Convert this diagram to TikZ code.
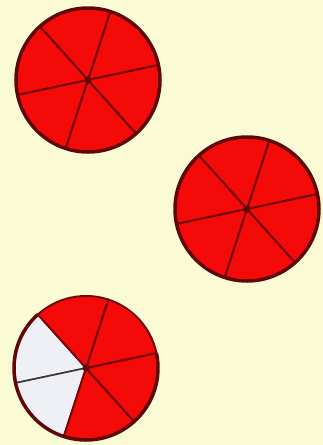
\documentclass[tikz,border=0pt]{standalone}
\definecolor{bg}{RGB}{250,250,213}
\definecolor{pie}{RGB}{245,10,10}
\definecolor{rim}{RGB}{95,8,8}
\definecolor{blank}{RGB}{238,240,245}
\definecolor{blankrim}{RGB}{55,55,55}
\begin{document}
\begin{tikzpicture}[x=1pt,y=-1pt,
  redslice/.style={fill=pie,draw=rim!85!pie,line width=2pt,line join=round},
  whiteslice/.style={fill=blank,draw=blankrim,line width=1.6pt,line join=round},
  rimline/.style={draw=rim,line width=3.5pt},
  hub/.style={fill=rim}]
\fill[bg] (0,0) rectangle (323,445);
\useasboundingbox (0,0) rectangle (323,445);
% whole pie 1
\foreach \a in {12,72,...,312}
  \filldraw[redslice] (88,80) -- ++(-\a:72) arc[start angle=-\a,end angle=-\a-60,radius=72] -- cycle;
\draw[rimline] (88,80) circle[radius=72];
\fill[hub] (88,80) circle[radius=3.5];
% whole pie 2
\foreach \a in {12,72,...,312}
  \filldraw[redslice] (247,209) -- ++(-\a:72) arc[start angle=-\a,end angle=-\a-60,radius=72] -- cycle;
\draw[rimline] (247,209) circle[radius=72];
\fill[hub] (247,209) circle[radius=3.5];
% partial pie 3
\foreach \a in {132,192}
  \filldraw[whiteslice] (86,368) -- ++(-\a:72) arc[start angle=-\a,end angle=-\a-60,radius=72] -- cycle;
\foreach \a in {252,312,372,432}
  \filldraw[redslice] (86,368) -- ++(-\a:72) arc[start angle=-\a,end angle=-\a-60,radius=72] -- cycle;
\draw[rimline] (86,368) ++(-132:72) arc[start angle=-132,end angle=-372,radius=72];
\fill[hub] (86,368) circle[radius=3.5];
\end{tikzpicture}
\end{document}
